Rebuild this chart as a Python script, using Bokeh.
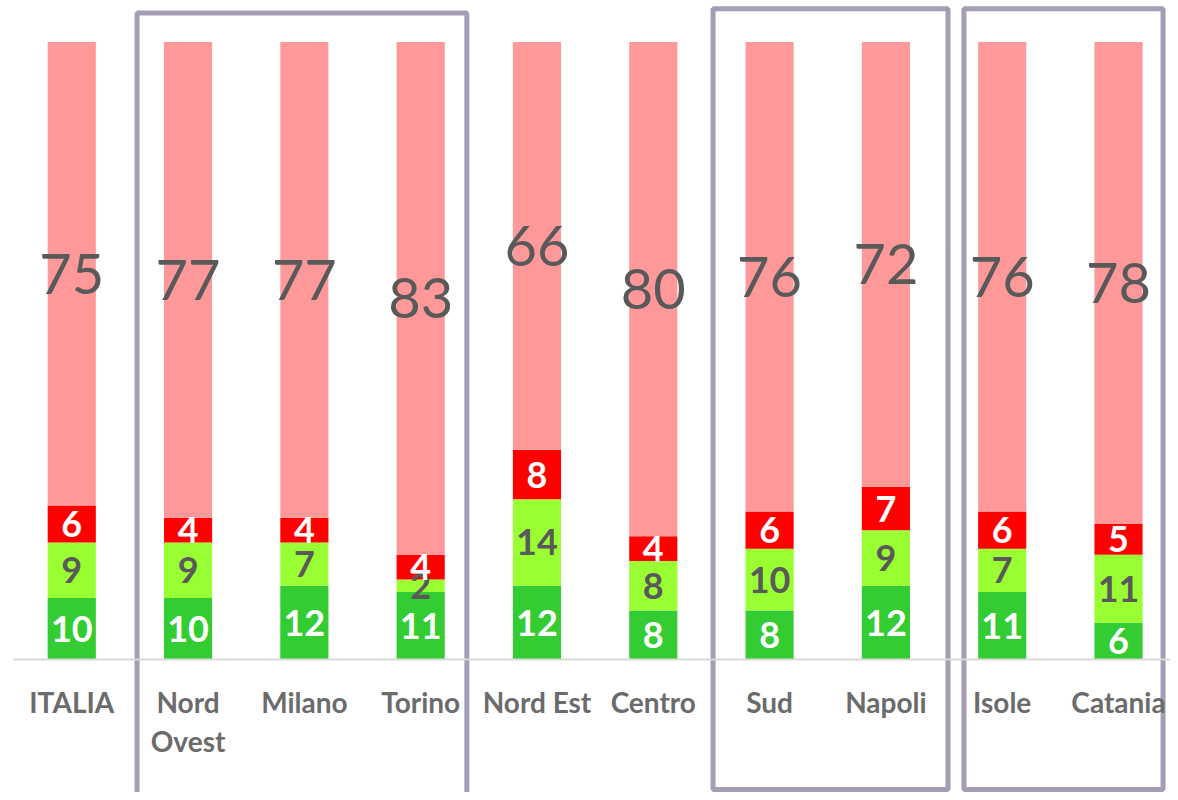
from bokeh.plotting import figure
from bokeh.models import Range1d, FixedTicker, ColumnDataSource
from bokeh.core.properties import value
from bokeh.embed import file_html
from bokeh.resources import INLINE

# ---- data ----
categories = ["ITALIA", "Nord Ovest", "Milano", "Torino", "Nord Est",
              "Centro", "Sud", "Napoli", "Isole", "Catania"]
tick_labels = ["ITALIA", "Nord\nOvest", "Milano", "Torino", "Nord Est",
               "Centro", "Sud", "Napoli", "Isole", "Catania"]
dark_green = [10, 10, 12, 11, 12, 8, 8, 12, 11, 6]
light_green = [9, 9, 7, 2, 14, 8, 10, 9, 7, 11]
red = [6, 4, 4, 4, 8, 4, 6, 7, 6, 5]
pink = [75, 77, 77, 83, 66, 80, 76, 72, 76, 78]

series_names = ["dark_green", "light_green", "red", "pink"]
series_values = [dark_green, light_green, red, pink]
colors = ["#33CC33", "#99FF33", "#FF0000", "#FF9999"]
label_colors = ["#FFFFFF", "#595959", "#FFFFFF", "#595959"]

# group boxes (category index spans)
groups = [(0.5615, 3.397, 104.7, -23.0),
          (5.514, 7.534, 105.4, -21.0),
          (7.671, 9.383, 105.4, -21.0)]

x = list(range(len(categories)))
data = {"x": x}
for n, v in zip(series_names, series_values):
    data[n] = v
src = ColumnDataSource(data)

p = figure(width=1170, height=792,
           x_range=Range1d(-0.6127, 9.447), y_range=Range1d(-21.47, 106.73),
           min_border=0, outline_line_color=None, toolbar_location=None,
           output_backend="svg", y_axis_location=None)
p.xgrid.visible = False
p.ygrid.visible = False

p.vbar_stack(series_names, x="x", width=0.414, color=colors, line_width=0, source=src)

# segment labels
cum = [0] * len(x)
for i, (vals, lc) in enumerate(zip(series_values, label_colors)):
    mids = [c + v / 2 for c, v in zip(cum, vals)]
    cum = [c + v for c, v in zip(cum, vals)]
    lsrc = ColumnDataSource({"x": x, "y": mids, "t": [str(v) for v in vals]})
    if i < 3:
        p.text(x="x", y="y", text="t", source=lsrc, text_align="center",
               text_baseline="middle", text_font=value("Lato"),
               text_font_style="bold", text_font_size="36px", text_color=lc)
    else:
        p.text(x="x", y="y", text="t", source=lsrc, text_align="center",
               text_baseline="middle", text_font=value("Lato"),
               text_font_size="56px", text_color=lc)

# group boxes
for (l, r, t, b) in groups:
    p.quad(left=l, right=r, top=t, bottom=b, fill_color=None,
           line_color="#A59DB5", line_width=5)

ax = p.xaxis[0]
ax.fixed_location = 0
ax.ticker = FixedTicker(ticks=x)
ax.major_label_overrides = {i: lab for i, lab in zip(x, tick_labels)}
ax.major_tick_line_color = None
ax.minor_tick_line_color = None
ax.axis_line_color = "#D9D9D9"
ax.axis_line_width = 2
ax.bounds = (-0.5, 9.447)
ax.major_label_standoff = 19
ax.major_label_text_font = "Lato"
ax.major_label_text_font_style = "bold"
ax.major_label_text_font_size = "28px"
ax.major_label_text_color = "#6B6B6B"
ax.major_label_text_line_height = 1.15

open("out.html", "w").write(file_html(p, INLINE))
